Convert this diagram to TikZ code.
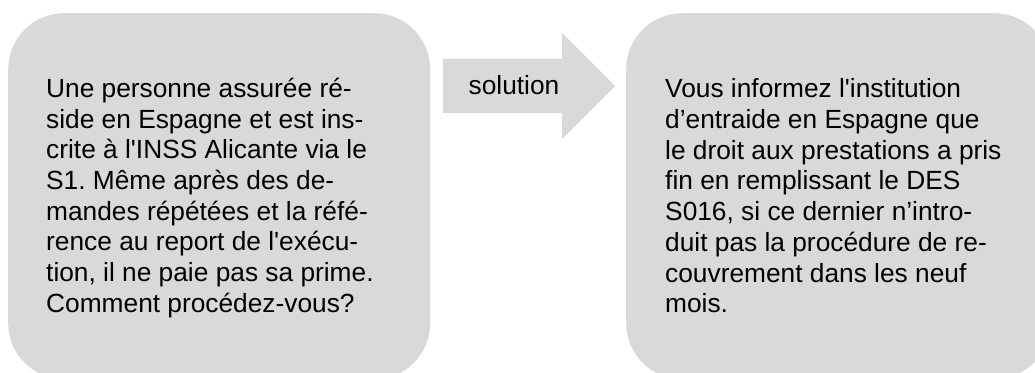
\documentclass[tikz,border=0pt]{standalone}
\usepackage{fontspec}
\newfontfamily\arialfont{Liberation Sans}
\definecolor{boxgray}{HTML}{D9D9D9}
\frenchspacing
\begin{document}
\begin{tikzpicture}[x=1pt,y=1pt,
  box/.style={fill=boxgray, draw=none, rounded corners=56pt, minimum width=422pt, minimum height=366pt, inner sep=0pt, anchor=north west},
  txt/.style={font=\arialfont\fontsize{26.3}{30.7}\selectfont, align=left, inner sep=0pt, anchor=base west, text=black}]
\useasboundingbox (0,0) rectangle (1035,372);
\clip (0,0) rectangle (1035,372);
\node[box] (boxL) at (8,359) {};
\node[box, minimum width=424pt] (boxR) at (626,359) {};
\fill[boxgray] (443,313) -- (562,313) -- (562,339) -- (615,286) -- (562,233) -- (562,259) -- (443,259) -- cycle;
\node[txt, anchor=base] (sol) at (514,277) {solution};
\node[txt] (txtL) at (46,59.7) {Une personne assurée ré-\\side en Espagne et est ins-\\crite à l'INSS Alicante via le\\S1. Même après des de-\\mandes répétées et la réfé-\\rence au report de l'exécu-\\tion, il ne paie pas sa prime.\\Comment procédez-vous?};
\node[txt] (txtR) at (665,59.3) {Vous informez l'institution\\d’entraide en Espagne que\\le droit aux prestations a pris\\fin en remplissant le DES\\S016, si ce dernier n’intro-\\duit pas la procédure de re-\\couvrement dans les neuf\\mois.};
\end{tikzpicture}
\end{document}
